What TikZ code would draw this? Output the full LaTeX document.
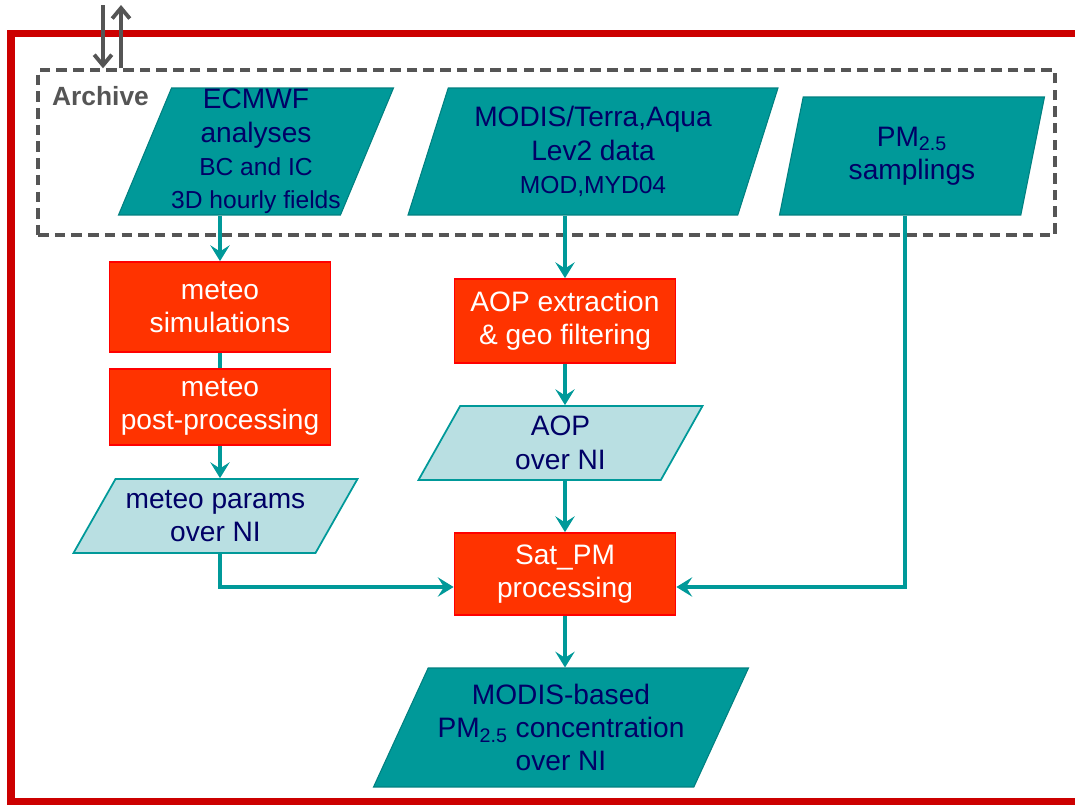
\documentclass[tikz,border=0pt]{standalone}
\usepackage{fontspec}
\setmainfont{Liberation Sans}
\usetikzlibrary{shapes.geometric,arrows.meta}

\definecolor{framered}{RGB}{204,0,0}
\definecolor{tealfill}{RGB}{0,153,153}
\definecolor{tealedge}{RGB}{0,128,128}
\definecolor{palefill}{RGB}{185,223,226}
\definecolor{procfill}{RGB}{255,51,0}
\definecolor{procedge}{RGB}{255,0,0}
\definecolor{navy}{RGB}{0,0,102}
\definecolor{archgray}{RGB}{85,85,85}

\newcommand\bigtxt{\fontsize{16}{19}\selectfont}
\newcommand\smalltxt{\fontsize{14}{17}\selectfont}

\tikzset{
  lean/.style={trapezium,trapezium stretches body,
    trapezium left angle=#1,trapezium right angle={180-#1}},
  src/.style={draw=tealedge,fill=tealfill,text=navy,align=center,
    inner xsep=-1cm,inner ysep=0pt,line width=0.6pt},
  derived/.style={draw=tealfill,fill=palefill,text=navy,align=center,
    inner xsep=-1cm,inner ysep=0pt,line width=1pt},
  proc/.style={rectangle,draw=procedge,fill=procfill,text=white,align=center,
    minimum width=4.42cm,inner sep=0pt,line width=1pt},
  flow/.style={draw=tealfill,line width=2.2pt,
    -{Stealth[length=9pt,width=11pt,inset=3.5pt]}},
  io/.style={draw=archgray,line width=2.2pt,
    -{Straight Barb[length=6pt,width=10pt]}}
}

\begin{document}
\begin{tikzpicture}
[x=0.02cm,y=-0.02cm,every node/.style={font=\bigtxt}]
\useasboundingbox (0,0) rectangle (1075,805);
\begin{scope}
\clip (0,0) rectangle (1075,805);
\draw[framered,line width=4pt] (11,33.5) rectangle (1090,801.5);
\end{scope}

% archive
\node[draw=archgray,line width=2pt,dash pattern=on 6pt off 3.5pt,
  minimum width=20.34cm,minimum height=3.3cm,inner sep=0pt] (archive) at (546.5,152.5) {};
\node[anchor=west,text=archgray,font=\fontsize{15}{18}\bfseries] (archlbl) at (46,96) {Archive};
\coordinate (dn) at (103,5);
\coordinate (up) at (121,5);
\draw[io] (dn) -- (dn |- archive.north);
\draw[io] (up |- archive.north) -- (up);

% inputs
\node[src,lean=67,minimum width=5.5cm,minimum height=2.54cm] (ecmwf) at (256,151.5)
  {ECMWF\\analyses\\{\smalltxt BC and IC}\\{\smalltxt 3D hourly fields}};
\node[src,lean=66,minimum width=7.4cm,minimum height=2.54cm] (modis) at (593,151.5)
  {MODIS/Terra,Aqua\\Lev2 data\\{\smalltxt MOD,MYD04}};
\node[src,lean=68,minimum width=5.3cm,minimum height=2.36cm] (pm) at (912,156)
  {PM\textsubscript{2.5}\\samplings};

% processing
\node[proc,minimum height=1.8cm] (sim) at (220,307) {meteo\\simulations};
\node[proc,minimum height=1.52cm] (post) at (220,407) {meteo\\post-processing};
\node[proc,minimum height=1.68cm] (aopx) at (565,321) {AOP extraction\\\& geo filtering};
\node[proc,minimum height=1.64cm] (satpm) at (565,574) {Sat\_PM\\processing};

% products
\node[derived,lean=51,minimum width=5.68cm,minimum height=1.48cm] (params) at (215.5,516)
  {meteo params\\over NI};
\node[derived,lean=52,minimum width=5.68cm,minimum height=1.48cm] (aop) at (560.5,443)
  {AOP\\over NI};
\node[src,lean=58,minimum width=7.5cm,minimum height=2.38cm] (out) at (561,727.5)
  {MODIS-based\\PM\textsubscript{2.5} concentration\\over NI};

% connectors
\draw[tealfill,line width=2.2pt] (sim.south) -- (post.north);
\foreach \from/\to in {ecmwf/sim,modis/aopx,aop/satpm}
  \draw[flow] (\to.north |- \from.south) -- (\to.north);
\foreach \from/\to in {post/params,aopx/aop,satpm/out}
  \draw[flow] (\from.south) -- (\from.south |- \to.north);
\draw[flow] (post.south |- params.south) |- ([yshift=-0.26cm]satpm.west);
\draw[flow] (pm.south -| 905,0) |- ([yshift=-0.26cm]satpm.east);
\end{tikzpicture}
\end{document}
